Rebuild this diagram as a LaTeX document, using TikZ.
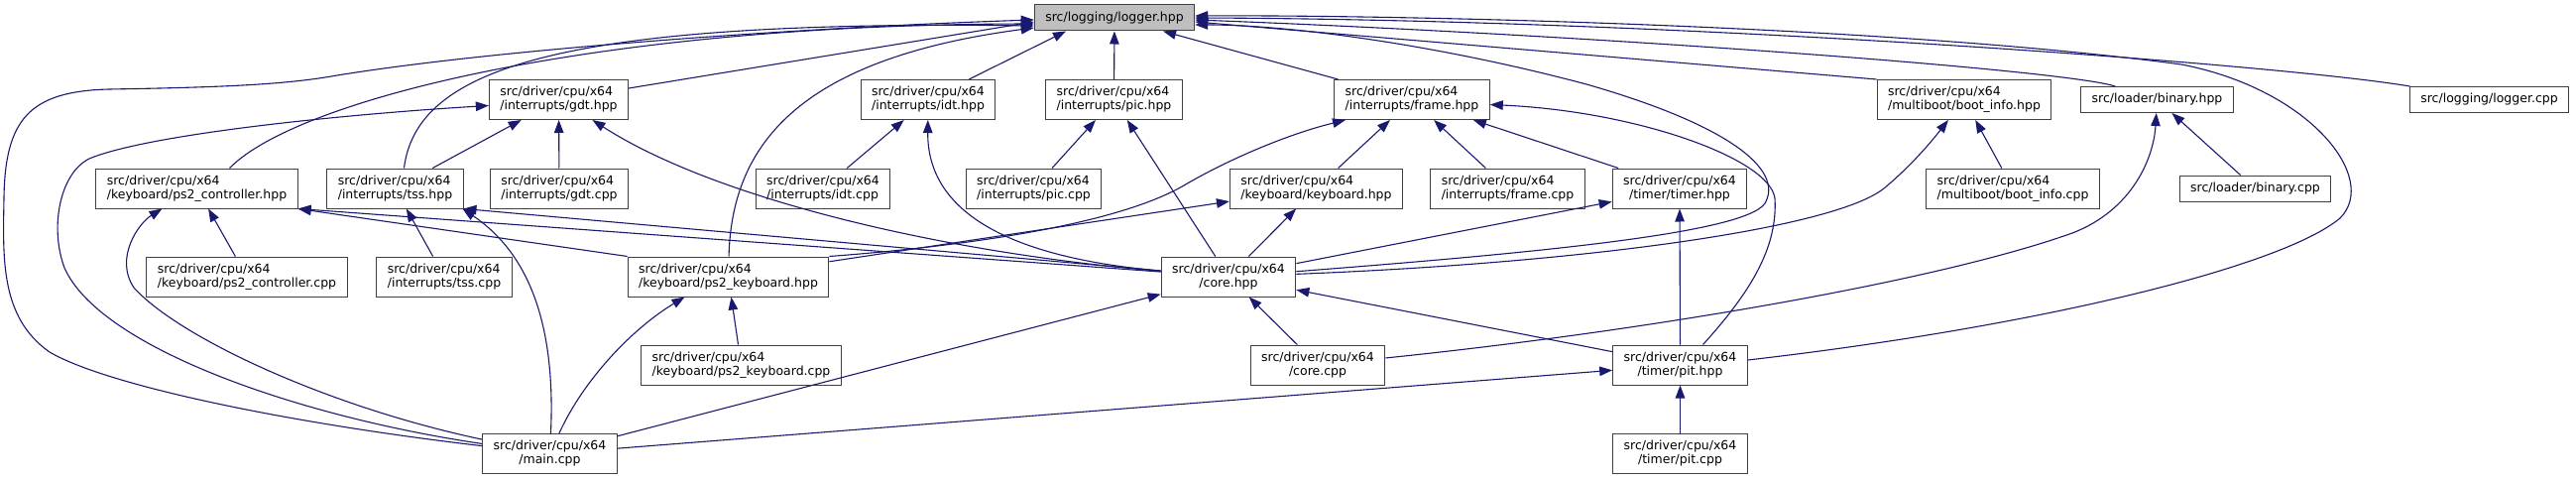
\documentclass[tikz,border=0pt]{standalone}
\usepackage{fontspec}
\setmainfont{DejaVu Sans}
\usepackage{tikz}
\usetikzlibrary{arrows.meta}

\definecolor{edgeblue}{HTML}{191970}
\definecolor{rootgray}{HTML}{BFBFBF}

\begin{document}
\begin{tikzpicture}[x=1pt, y=-1pt,
    hdr/.style={draw=black!75, line width=1pt, fill=white, align=left,
        font=\fontsize{12.5}{14}\selectfont, inner xsep=11pt, inner ysep=0pt, minimum height=40pt},
    hdrone/.style={hdr, minimum height=26pt},
    incl/.style={draw=edgeblue, line width=1.1pt, -{Triangle[length=13pt,width=9.5pt]}}]
        \useasboundingbox (0,0) rectangle (2598,484);
        \fill[white] (0,0) rectangle (2598,484);

        % Root
        \node[hdrone, fill=rootgray] (logh) at (1124,18) {src/logging/logger.hpp};

        % Second row
        \node[hdr] (gdth) at (563.5,100.5) {src/driver/cpu/x64\\/interrupts/gdt.hpp};
        \node[hdr] (idth) at (936,100.5) {src/driver/cpu/x64\\/interrupts/idt.hpp};
        \node[hdr] (pich) at (1123.5,100.5) {src/driver/cpu/x64\\/interrupts/pic.hpp};
        \node[hdr] (frameh) at (1424,100.5) {src/driver/cpu/x64\\/interrupts/frame.hpp};
        \node[hdr] (booth) at (1981,100.5) {src/driver/cpu/x64\\/multiboot/boot\_info.hpp};
        \node[hdrone] (binh) at (2175.5,100.5) {src/loader/binary.hpp};
        \node[hdrone] (logcpp) at (2510.5,100.5) {src/logging/logger.cpp};

        % Third row
        \node[hdr] (ps2ch) at (198.5,190) {src/driver/cpu/x64\\/keyboard/ps2\_controller.hpp};
        \node[hdr] (tssh) at (398.5,190) {src/driver/cpu/x64\\/interrupts/tss.hpp};
        \node[hdr] (gdtcpp) at (564,190) {src/driver/cpu/x64\\/interrupts/gdt.cpp};
        \node[hdr] (idtcpp) at (830,190) {src/driver/cpu/x64\\/interrupts/idt.cpp};
        \node[hdr] (piccpp) at (1042.5,190) {src/driver/cpu/x64\\/interrupts/pic.cpp};
        \node[hdr] (kbdh) at (1327.5,190) {src/driver/cpu/x64\\/keyboard/keyboard.hpp};
        \node[hdr] (framecpp) at (1520.5,190) {src/driver/cpu/x64\\/interrupts/frame.cpp};
        \node[hdr, align=center] (timerh) at (1694,190) {src/driver/cpu/x64\\/timer/timer.hpp};
        \node[hdr] (bootcpp) at (2030,190) {src/driver/cpu/x64\\/multiboot/boot\_info.cpp};
        \node[hdrone] (bincpp) at (2274.5,190) {src/loader/binary.cpp};

        % Fourth row
        \node[hdr] (ps2ccpp) at (249,279) {src/driver/cpu/x64\\/keyboard/ps2\_controller.cpp};
        \node[hdr] (tsscpp) at (448,279) {src/driver/cpu/x64\\/interrupts/tss.cpp};
        \node[hdr] (ps2kh) at (734.5,279) {src/driver/cpu/x64\\/keyboard/ps2\_keyboard.hpp};
        \node[hdr, align=center] (coreh) at (1239,279) {src/driver/cpu/x64\\/core.hpp};

        % Fifth row
        \node[hdr] (ps2kcpp) at (747.5,368) {src/driver/cpu/x64\\/keyboard/ps2\_keyboard.cpp};
        \node[hdr, align=center] (corecpp) at (1329,368) {src/driver/cpu/x64\\/core.cpp};
        \node[hdr, align=center] (pith) at (1694.5,368) {src/driver/cpu/x64\\/timer/pit.hpp};

        % Bottom row
        \node[hdr, align=center] (maincpp) at (554.5,457.5) {src/driver/cpu/x64\\/main.cpp};
        \node[hdr, align=center] (pitcpp) at (1694.5,457.5) {src/driver/cpu/x64\\/timer/pit.cpp};

        % Into logger.hpp
        \draw[incl] (gdth) -- ([yshift=-4pt]logh.west);
        \draw[incl] ([xshift=33pt]ps2ch.north) .. controls (300,100) and (600,25) .. ([yshift=-6pt]logh.west);
        \draw[incl] ([xshift=9pt]tssh.north) .. controls (420,70) and (560,20) .. ([yshift=-8pt]logh.west);
        \draw[incl] (maincpp) .. controls (300,428) and (110,390) .. (50,355) .. controls (0,320) and (3,260) .. (4,200)
            .. controls (5,120) and (30,92) .. (110,90) .. controls (230,88) and (290,85) .. (340,76)
            .. controls (500,50) and (800,28) .. ([yshift=-2pt]logh.west);
        \draw[incl] (ps2kh) .. controls (738,150) and (800,60) .. ([yshift=-10pt]logh.west);
        \draw[incl] (idth) -- ([xshift=-49pt]logh.south);
        \draw[incl] (pich) -- (logh);
        \draw[incl] (frameh) -- (logh);
        \draw[incl] (coreh) .. controls (1550,255) and (1760,235) .. (1780,205) .. controls (1800,170) and (1740,125) .. (1600,85)
            .. controls (1450,45) and (1300,25) .. ([yshift=-7pt]logh.east);
        \draw[incl] (booth.north west) -- ([yshift=-4pt]logh.east);
        \draw[incl] (binh) .. controls (2080,70) and (1600,35) .. ([yshift=-2pt]logh.east);
        \draw[incl] (logcpp) .. controls (2300,65) and (1700,20) .. (logh.east);
        \draw[incl] ([yshift=5pt]pith.east) .. controls (2050,330) and (2300,270) .. (2360,220) .. controls (2400,180) and (2330,90) .. (2200,65)
            .. controls (1900,25) and (1400,15) .. ([yshift=2pt]logh.east);

        % Into gdt.hpp
        \draw[incl] (maincpp) .. controls (300,420) and (100,350) .. (65,270) .. controls (50,230) and (60,175) .. (90,160)
            .. controls (150,135) and (350,115) .. ([yshift=-6pt]gdth.west);
        \draw[incl] (tssh) -- (gdth);
        \draw[incl] (gdtcpp) -- (gdth);
        \draw[incl] (coreh) .. controls (950,255) and (720,200) .. ([xshift=34pt]gdth.south);

        % Into idt.hpp and pic.hpp
        \draw[incl] (idtcpp) -- (idth);
        \draw[incl] (coreh) .. controls (1020,260) and (935,215) .. (idth);
        \draw[incl] (piccpp) -- (pich);
        \draw[incl] (coreh) -- (pich);

        % Into frame.hpp
        \draw[incl] (ps2kh.north east) .. controls (950,250) and (1120,230) .. (1194,187) .. controls (1240,160) and (1300,135) .. ([xshift=-67pt]frameh.south);
        \draw[incl] (kbdh) -- (frameh);
        \draw[incl] (framecpp) -- (frameh);
        \draw[incl] (timerh) -- (frameh);
        \draw[incl] ([xshift=23pt]pith.north) .. controls (1765,295) and (1793,250) .. (1790,200) .. controls (1785,160) and (1650,112) .. ([yshift=-5pt]frameh.east);

        % Into keyboard.hpp and timer.hpp
        \draw[incl] (ps2kh) -- (kbdh);
        \draw[incl] (coreh) -- (kbdh);
        \draw[incl] (coreh) -- (timerh);
        \draw[incl] (pith) -- (timerh);

        % Into boot_info.hpp and binary.hpp
        \draw[incl] (coreh) .. controls (1600,265) and (1850,230) .. (1900,190) .. controls (1930,165) and (1950,140) .. (booth);
        \draw[incl] (bootcpp) -- (booth);
        \draw[incl] (corecpp) .. controls (1650,335) and (1950,285) .. (2090,235) .. controls (2150,212) and (2172,160) .. (binh);
        \draw[incl] (bincpp) -- (binh);

        % Into ps2_controller.hpp and tss.hpp
        \draw[incl] (ps2ccpp) -- (ps2ch);
        \draw[incl] (maincpp) .. controls (330,410) and (180,340) .. (135,290) .. controls (115,260) and (140,225) .. ([xshift=-35pt]ps2ch.south);
        \draw[incl] (coreh) -- (ps2ch.south east);
        \draw[incl] (ps2kh.north west) -- (ps2ch.south east);
        \draw[incl] (tsscpp) -- (tssh);
        \draw[incl] (maincpp) .. controls (560,340) and (540,260) .. ([xshift=68pt]tssh.south);
        \draw[incl] (coreh) -- ([xshift=69pt]tssh.south);

        % Into ps2_keyboard.hpp, core.hpp and pit.hpp
        \draw[incl] (ps2kcpp) -- (ps2kh);
        \draw[incl] (maincpp) .. controls (590,380) and (640,330) .. ([xshift=-44pt]ps2kh.south);
        \draw[incl] (maincpp) -- (coreh);
        \draw[incl] (corecpp) -- (coreh);
        \draw[incl] (pith) -- (coreh);
        \draw[incl] (maincpp) -- (pith);
        \draw[incl] (pitcpp) -- (pith);
    \end{tikzpicture}
\end{document}
